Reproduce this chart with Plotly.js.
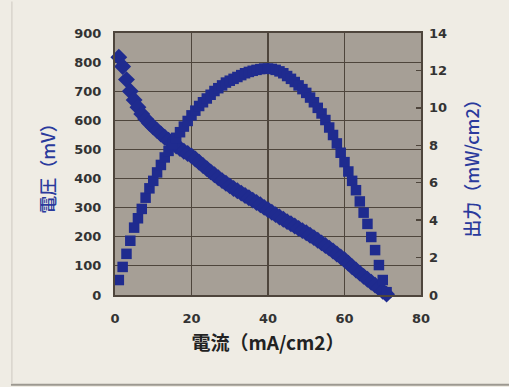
<!DOCTYPE html>
<html><head><meta charset="utf-8">
<script src="https://cdn.plot.ly/plotly-3.0.1.min.js"></script>
<style>html,body{margin:0;padding:0;background:#efece4;}</style>
</head><body>
<div id="chart" style="width:509px;height:387px;"></div>
<script>
const current = [1,2,3,4,5,6,7,8,9,10,11,12,13,14,15,16,17,18,19,20,21,22,23,24,25,26,27,28,29,30,31,32,33,34,35,36,37,38,39,40,41,42,43,44,45,46,47,48,49,50,51,52,53,54,55,56,57,58,59,60,61,62,63,64,65,66,67,68,69,70,71];
const voltage = [817,785,740,700,670,645,622,605,590,577,565,553,542,532,522,512,503,494,486,478,467,456,445,434,423,413,403,393,384,375,366,358,350,342,334,326,318,310,301,293,284,276,268,260,252,245,237,229,221,214,205,197,188,179,170,161,151,141,131,121,109,97,86,75,64,54,44,34,24,13,3];
const power = [0.8,1.5,2.2,2.9,3.6,4.1,4.6,5.2,5.7,6.1,6.55,6.95,7.35,7.7,8.05,8.4,8.7,9.0,9.3,9.6,9.85,10.1,10.3,10.5,10.7,10.9,11.05,11.2,11.35,11.45,11.55,11.65,11.75,11.85,11.92,11.98,12.03,12.07,12.1,12.1,12.08,12.03,11.95,11.85,11.7,11.55,11.38,11.2,11.0,10.8,10.55,10.3,10.0,9.7,9.35,8.95,8.55,8.1,7.6,7.1,6.6,6.1,5.6,5.0,4.4,3.8,3.1,2.4,1.6,0.8,0.15];
const xTitle = '電流（mA/cm2）';
const yTitle = '電圧（mV）';
const y2Title = '出力（mW/cm2）';

const blue = '#1f2b8f';
const grid = '#4e453c';
const tickFont = {family:'DejaVu Sans, sans-serif', size:13, color:'#333', weight:'bold'};

const traces = [
  {x: current, y: voltage, type:'scatter', mode:'markers', yaxis:'y',
   marker:{symbol:'diamond', size:13, color:blue}, cliponaxis:false},
  {x: current, y: power, type:'scatter', mode:'markers', yaxis:'y2',
   marker:{symbol:'square', size:10.5, color:blue}, cliponaxis:false}
];

const layout = {
  width:509, height:387,
  margin:{l:115, r:88, t:33, b:92},
  paper_bgcolor:'#efece4',
  plot_bgcolor:'#a69f96',
  showlegend:false,
  xaxis:{range:[0,80], dtick:20, tick0:0, showgrid:true, gridcolor:grid, gridwidth:1.2,
    zeroline:false, showline:true, mirror:true, linecolor:grid, linewidth:2,
    ticks:'outside', ticklen:10, tickcolor:'rgba(0,0,0,0)', tickfont:tickFont,
    title:{text:xTitle, standoff:12, font:{family:'Noto Sans CJK JP', size:19, color:'#222', weight:'bold'}}},
  yaxis:{range:[0,900], dtick:100, tick0:0, showgrid:true, gridcolor:grid, gridwidth:1.2,
    zeroline:false, showline:true, mirror:true, linecolor:grid, linewidth:2,
    ticks:'outside', ticklen:9, tickcolor:'rgba(0,0,0,0)', tickfont:tickFont,
    title:{text:yTitle, standoff:14, font:{family:'Noto Sans CJK JP', size:18, color:'#2a3a9c', weight:500}}},
  yaxis2:{range:[0,14], dtick:2, tick0:0, overlaying:'y', side:'right', showgrid:false,
    zeroline:false, showline:false, ticks:'inside', ticklen:5, tickwidth:1.5, tickcolor:grid,
    tickfont:tickFont, ticklabelstandoff:7,
    title:{text:y2Title, standoff:20, font:{family:'Noto Sans CJK JP', size:18, color:'#2a3a9c', weight:500}}},
  shapes:[
    {type:'line', xref:'paper', yref:'paper', x0:-0.34, x1:1.3, y0:-0.343, y1:-0.343, line:{color:'#9c9890', width:2}},
    {type:'line', xref:'paper', yref:'paper', x0:-0.337, x1:-0.337, y0:-0.34, y1:1.12, line:{color:'#d8d4cc', width:1.5}}
  ]
};
Plotly.newPlot('chart', traces, layout, {displayModeBar:false, staticPlot:true});
</script>
</body></html>
